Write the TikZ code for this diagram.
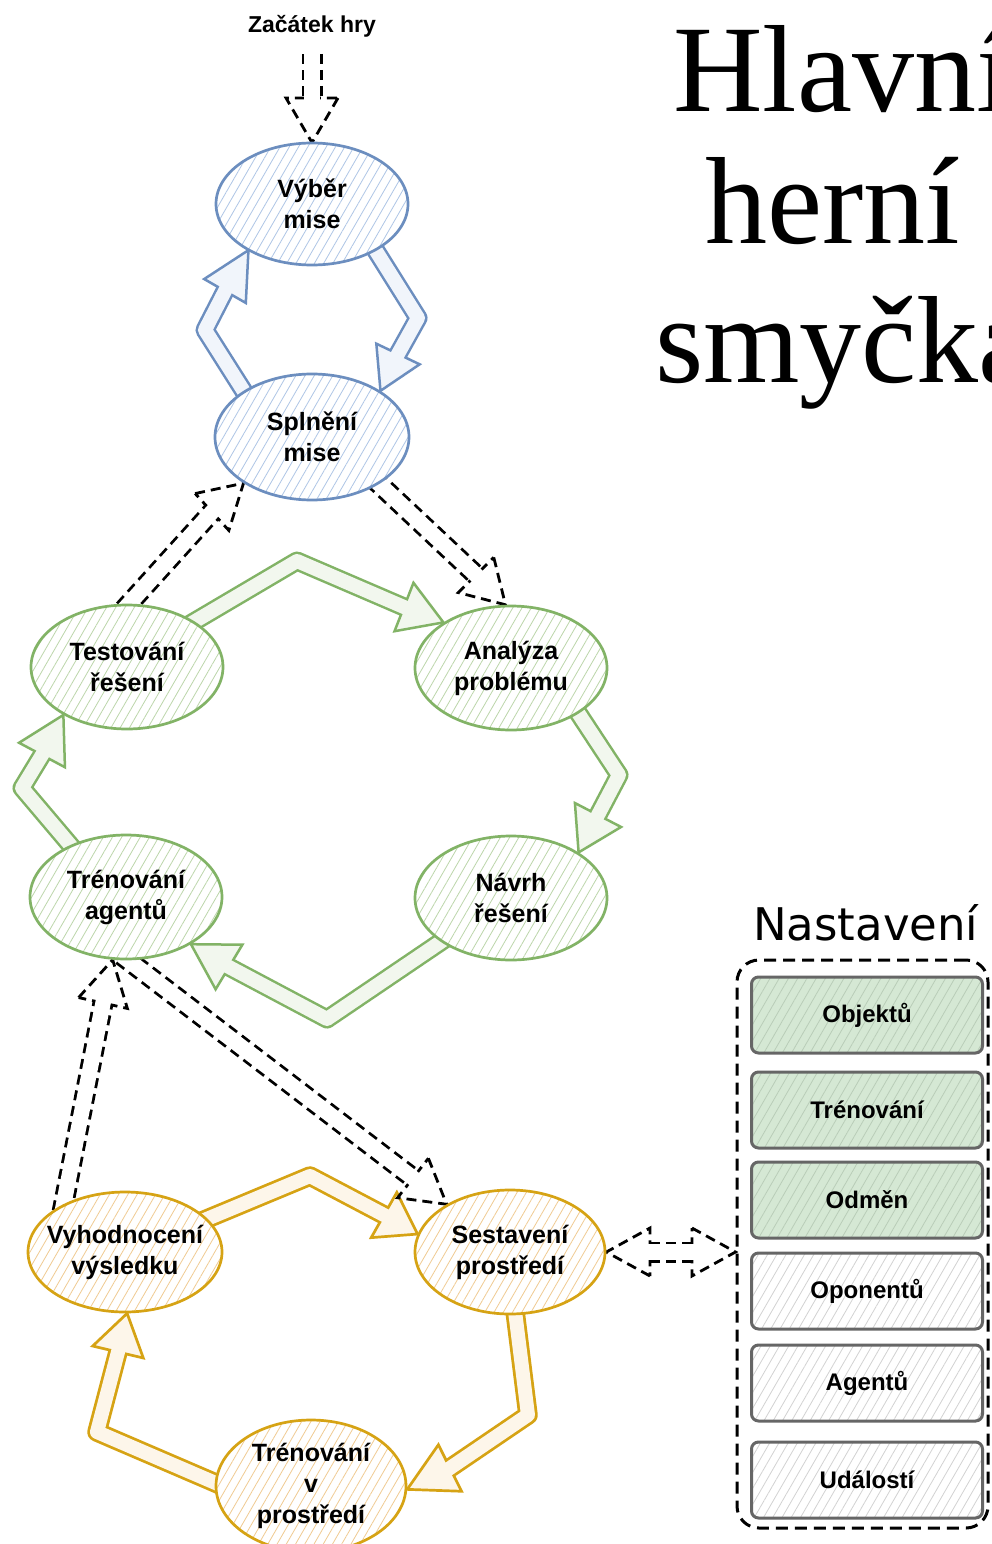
\documentclass[tikz,border=0pt]{standalone}
\usepackage{fontspec}
\setmainfont{Liberation Serif}
\newfontfamily\labfont{Liberation Sans}
\newfontfamily\nastfont{DejaVu Sans}
\usetikzlibrary{calc,patterns.meta,shapes.geometric}
\pgfdeclarelayer{bg}
\pgfsetlayers{bg,main}
\definecolor{bluel}{HTML}{6C8EBF}
\definecolor{blueh}{HTML}{AFC6E6}
\definecolor{bluei}{HTML}{F1F5FB}
\definecolor{greenl}{HTML}{82B366}
\definecolor{greenh}{HTML}{BCD6AA}
\definecolor{greeni}{HTML}{F2F7EE}
\definecolor{yell}{HTML}{D6A314}
\definecolor{yelh}{HTML}{F0CB92}
\definecolor{yeli}{HTML}{FDF6EA}
\definecolor{grayl}{HTML}{666666}
\definecolor{grayh}{HTML}{D2D2D2}
\definecolor{greenf}{HTML}{D5E8D4}
\definecolor{greenbh}{HTML}{B9CDB8}
\tikzset{
  hatch/.style={pattern={Lines[angle=60,distance=8pt,line width=0.8pt]}, pattern color=#1},
  ell/.style={ellipse, line width=2.7pt, minimum width=192pt, minimum height=124pt,
    inner sep=0pt, align=center, font=\labfont\bfseries\fontsize{25}{31}\selectfont,
    preaction={fill=white}},
  bluenode/.style={ell, draw=bluel, hatch=blueh},
  greennode/.style={ell, draw=greenl, hatch=greenh},
  yelnode/.style={ell, draw=yell, hatch=yelh},
  setbox/.style={rectangle, rounded corners=7pt, draw=grayl, line width=3pt,
    minimum width=231pt, minimum height=76pt, inner sep=0pt,
    font=\labfont\bfseries\fontsize{24}{28}\selectfont},
  setgreen/.style={setbox, preaction={fill=greenf}, hatch=greenbh},
  setwhite/.style={setbox, preaction={fill=white}, hatch=grayh},
  blue head/.style={draw=bluel, fill=bluei, line width=2.5pt, line join=miter},
  blue out/.style={draw=bluel, line width=19pt, line join=round},
  blue in/.style={draw=bluei, line width=14pt, line join=round},
  green head/.style={draw=greenl, fill=greeni, line width=2.5pt, line join=miter},
  green out/.style={draw=greenl, line width=19pt, line join=round},
  green in/.style={draw=greeni, line width=14pt, line join=round},
  yel head/.style={draw=yell, fill=yeli, line width=2.7pt, line join=miter},
  yel out/.style={draw=yell, line width=19.5pt, line join=round},
  yel in/.style={draw=yeli, line width=14pt, line join=round},
  dash head/.style={draw=black, fill=white, line width=2.8pt, dash pattern=on 10pt off 6pt},
  dash out/.style={draw=black, line width=21pt, dash pattern=on 10pt off 6pt},
  dash in/.style={draw=white, line width=15.4pt},
}
% #1 style prefix, #2 band path ending at base, #3 base, #4 tip, #5 half width of head
\newcommand\fatarr[5]{%
  \filldraw[#1 head] ($#3!#5!90:#4$) -- #4 -- ($#3!#5!-90:#4$) -- cycle;
  \draw[#1 out] #2;
  \draw[#1 in, shorten >=-3pt] #2;
}
\begin{document}
\begin{tikzpicture}[x=1pt,y=-1pt]
\useasboundingbox (0,0) rectangle (991,1544);
\clip (0,0) rectangle (991,1544);

% title
\node[anchor=base west, inner sep=0pt, font=\fontsize{124}{130}\selectfont] (t1) at (673,112) {Hlavní};
\node[anchor=base west, inner sep=0pt, font=\fontsize{124}{130}\selectfont] (t2) at (705,243) {herní};
\node[anchor=base west, inner sep=0pt, font=\fontsize{124}{130}\selectfont] (t3) at (655,382) {smyčka};

% start label
\node[anchor=base, inner sep=0pt, font=\labfont\bfseries\fontsize{23}{27}\selectfont] (start) at (312,33) {Začátek hry};

% ellipses
\node[bluenode, minimum width=192pt, minimum height=122pt] (vyber) at (312,204) {Výběr\\mise};
\node[bluenode, minimum width=194pt, minimum height=126pt] (splneni) at (312,437) {Splnění\\mise};
\node[greennode] (test) at (127,667) {Testování\\řešení};
\node[greennode] (analyza) at (511,668) {Analýza\\problému};
\node[greennode] (trenag) at (126,897) {Trénování\\agentů};
\node[greennode] (navrh) at (511,898) {Návrh\\řešení};
\node[yelnode, minimum width=194pt, minimum height=120pt, inner sep=-12pt] (vyhod) at (125,1252) {Vyhodnocení\\výsledku};
\node[yelnode, minimum width=190pt, minimum height=124pt] (sest) at (510,1252) {Sestavení\\prostředí};
\node[yelnode, minimum width=190pt, minimum height=132pt] (trenv) at (311,1486) {Trénování\\v\\prostředí};

% settings
\node[anchor=base west, inner sep=0pt, font=\nastfont\fontsize{45}{50}\selectfont] (nasttitle) at (753,940) {Nastavení};
\node[rectangle, draw=black, line width=3pt, rounded corners=22pt, dash pattern=on 12pt off 7pt,
      minimum width=251pt, minimum height=568pt, inner sep=0pt] (nast) at (862.5,1244) {};
\node[setgreen] (b1) at (867,1015) {Objektů};
\node[setgreen] (b2) at (867,1110) {Trénování};
\node[setgreen] (b3) at (867,1200) {Odměn};
\node[setwhite] (b4) at (867,1291) {Oponentů};
\node[setwhite] (b5) at (867,1383) {Agentů};
\node[setwhite] (b6) at (867,1480) {Událostí};

\begin{pgfonlayer}{bg}
\fill[white] (0,0) rectangle (991,1544);
% blue loop
\fatarr{blue}{($(splneni.146)!-8pt!(205,330)$) -- (205,330) -- (225,291)}{(225,291)}{(vyber.216)}{24pt}
\fatarr{blue}{($(vyber.-36)!-8pt!(418,318)$) -- (418,318) -- (398,354)}{(398,354)}{(splneni.34)}{24pt}
% green loop
\fatarr{green}{($(test.34)!-8pt!(297,561)$) -- (297,561) -- (404,607)}{(404,607)}{(analyza.146)}{26pt}
\fatarr{green}{($(analyza.-34)!-8pt!(619,775)$) -- (619,775) -- (598,815)}{(598,815)}{(navrh.34)}{26pt}
\fatarr{green}{($(navrh.212)!-8pt!(327,1019)$) -- (327,1019) -- (229,967)}{(229,967)}{(trenag.-36)}{26pt}
\fatarr{green}{($(trenag.137)!-8pt!(22,788)$) -- (22,788) -- (42,755)}{(42,755)}{(test.217)}{26pt}
% yellow loop
\fatarr{yel}{($(vyhod.22)!-8pt!(310,1176)$) -- (310,1176) -- (384,1215)}{(384,1215)}{(sest.169)}{26pt}
\fatarr{yel}{($(sest.-85)!-8pt!(528,1415)$) -- (528,1415) -- (450,1468)}{(450,1468)}{(trenv.-2)}{26pt}
\fatarr{yel}{($(trenv.178)!-8pt!(97,1432)$) -- (97,1432) -- (118,1352)}{(118,1352)}{(vyhod.-88)}{26pt}
% dashed connectors
\fatarr{dash}{($(start.south)+(0,16)$) -- (312,98)}{(312,98)}{(vyber.north)}{26pt}
\fatarr{dash}{($(test.88)!-8pt!(212,512)$) -- (212,512)}{(212,512)}{(splneni.214)}{25pt}
\fatarr{dash}{($(splneni.-35)!-8pt!(476,575)$) -- (476,575)}{(476,575)}{(analyza.95)}{25pt}
\fatarr{dash}{($(vyhod.142)!-8pt!(103,1003)$) -- (103,1003)}{(103,1003)}{(trenag.-102)}{25pt}
\fatarr{dash}{($(trenag.-88)!-8pt!(413,1178)$) -- (413,1178)}{(413,1178)}{(sest.143)}{25pt}
% double-headed dashed connector
\filldraw[dash head] ($(650,1252)!24pt!90:(sest.east)$) -- (sest.east) -- ($(650,1252)!24pt!-90:(sest.east)$) -- cycle;
\filldraw[dash head] ($(692,1252)!24pt!90:(sest.east -| nast.west)$) -- (sest.east -| nast.west) -- ($(692,1252)!24pt!-90:(sest.east -| nast.west)$) -- cycle;
\draw[dash out] (650,1252) -- (692,1252);
\draw[dash in, shorten >=-3pt, shorten <=-3pt] (650,1252) -- (692,1252);
\end{pgfonlayer}
\end{tikzpicture}
\end{document}
